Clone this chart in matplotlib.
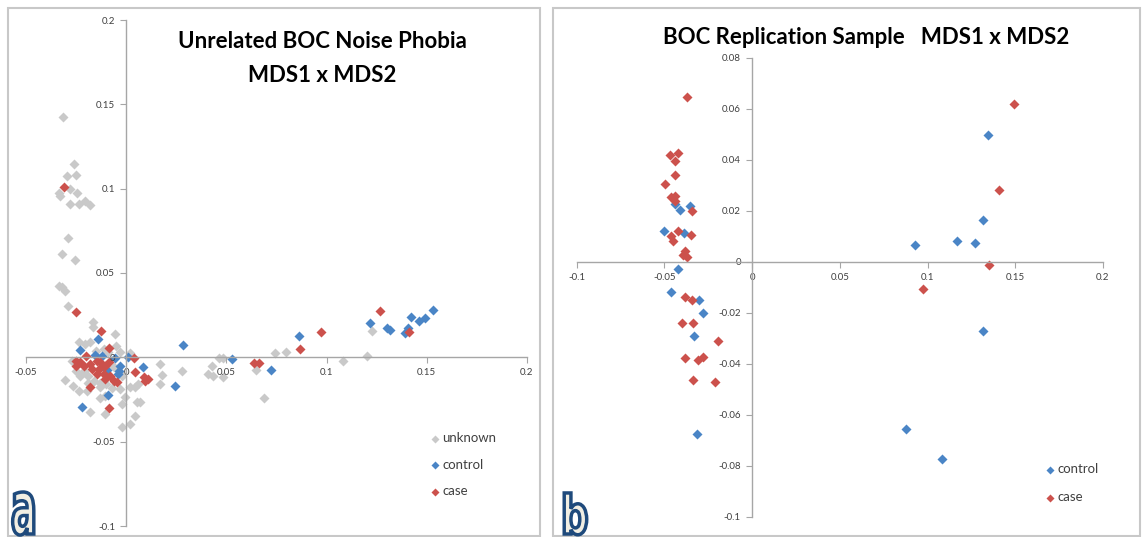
import matplotlib
matplotlib.use("Agg")
import matplotlib.pyplot as plt
from matplotlib.patches import Rectangle, PathPatch
from matplotlib.textpath import TextPath
from matplotlib.font_manager import FontProperties
from matplotlib.transforms import Affine2D

# --- panel a: unrelated BOC noise phobia, MDS1 x MDS2 ---
unk_x = [-0.0313, -0.0260, -0.0294, -0.0251, -0.0278, -0.0244, -0.0335, -0.0331, -0.0281, -0.0235,
         -0.0208, -0.0181, -0.0288, -0.0322, -0.0256, -0.0336, -0.0322, -0.0306, -0.0288,
         -0.0167, -0.0167, -0.0057, -0.0238, -0.0204, -0.0179, -0.0050, -0.0030, 0.0017,
         -0.0304, -0.0263, -0.0238, -0.0196, -0.0130, -0.0133, -0.0105, -0.0030, 0.0020, 0.0045,
         0.0061, -0.0005, 0.0053, 0.0070, -0.0022, 0.0045, -0.0022, 0.0020, -0.0179, -0.0105,
         0.0169, 0.0178, 0.0277, 0.0169,
         -0.0210, -0.0190, -0.0160, -0.0130, -0.0230, -0.0190, -0.0100, -0.0070, -0.0150, -0.0110,
         -0.0270, -0.0250, -0.0060, -0.0020, -0.0090,
         0.0427, 0.0464, 0.0485, 0.0407, 0.0435, 0.0482, 0.0647, 0.0690, 0.0743, 0.0798,
         0.1083, 0.1200, 0.1225]
unk_y = [0.1426, 0.1146, 0.1075, 0.1080, 0.0998, 0.0976, 0.0976, 0.0955, 0.0909, 0.0909,
         0.0927, 0.0903, 0.0708, 0.0613, 0.0576, 0.0422, 0.0416, 0.0396, 0.0304,
         0.0207, 0.0180, 0.0140, 0.0093, 0.0079, 0.0093, 0.0069, 0.0034, 0.0024,
         -0.0134, -0.0168, -0.0198, -0.0198, -0.0178, -0.0241, -0.0227, -0.0188, -0.0178, -0.0178,
         -0.0158, -0.0237, -0.0267, -0.0267, -0.0277, -0.0346, -0.0415, -0.0395, -0.0326, -0.0336,
         -0.0040, -0.0103, -0.0079, -0.0158,
         -0.0080, -0.0110, -0.0140, -0.0150, -0.0110, -0.0150, -0.0160, -0.0180, 0.0040, 0.0050,
         -0.0020, -0.0080, -0.0060, -0.0110, 0.0030,
         -0.0053, -0.0004, -0.0004, -0.0097, -0.0110, -0.0119, -0.0073, -0.0241, 0.0024, 0.0034,
         -0.0024, 0.0006, 0.0156]

ctrl_x = [-0.0143, -0.0229, -0.0155, -0.0121, -0.0058, 0.0008, -0.0038, -0.0030, -0.0042, -0.0096,
          -0.0091, -0.0221, 0.0086, 0.0281, 0.0244, 0.0530, 0.0721, 0.0862, 0.1216, 0.1300,
          0.1316, 0.1391, 0.1407, 0.1421, 0.1459, 0.1491, 0.1529]
ctrl_y = [0.0109, 0.0043, 0.0016, 0.0010, -0.0004, 0.0000, -0.0079, -0.0049, -0.0099, -0.0075,
          -0.0221, -0.0292, -0.0055, 0.0073, -0.0172, -0.0010, -0.0077, 0.0126, 0.0206, 0.0174,
          0.0160, 0.0144, 0.0176, 0.0239, 0.0217, 0.0235, 0.0283]

case_x = [-0.0310, -0.0249, -0.0125, -0.0088, -0.0199, 0.0037, -0.0249, -0.0229, -0.0249, -0.0213,
          -0.0179, -0.0146, -0.0130, -0.0171, -0.0138, -0.0105, -0.0088, -0.0146, -0.0113, -0.0080,
          -0.0063, -0.0047, -0.0105, -0.0179, -0.0085, 0.0045, 0.0090, 0.0111, 0.0095,
          0.0637, 0.0661, 0.0869, 0.0974, 0.1268, 0.1409]
case_y = [0.1008, 0.0267, 0.0158, 0.0055, 0.0010, -0.0004, -0.0020, -0.0030, -0.0049, -0.0049,
          -0.0040, -0.0020, -0.0030, -0.0069, -0.0069, -0.0049, -0.0030, -0.0099, -0.0099, -0.0109,
          -0.0138, -0.0148, -0.0128, -0.0178, -0.0300, -0.0089, -0.0115, -0.0128, -0.0138,
          -0.0032, -0.0032, 0.0047, 0.0152, 0.0273, 0.0150]

# --- panel b: BOC replication sample ---
rep_ctrl_x = [-0.0441, -0.0409, -0.0356, -0.0504, -0.0388, -0.0422, -0.0464, -0.0303, -0.0277, -0.0328,
              -0.0316, 0.1347, 0.1317, 0.0929, 0.1170, 0.1269, 0.1317, 0.0880, 0.1080]
rep_ctrl_y = [0.0226, 0.0202, 0.0218, 0.0119, 0.0111, -0.0030, -0.0119, -0.0150, -0.0202, -0.0291,
              -0.0674, 0.0498, 0.0163, 0.0064, 0.0083, 0.0073, -0.0270, -0.0655, -0.0772]

rep_case_x = [-0.0372, -0.0466, -0.0422, -0.0441, -0.0439, -0.0498, -0.0460, -0.0441, -0.0436, -0.0341,
              -0.0460, -0.0422, -0.0451, -0.0350, -0.0379, -0.0394, -0.0371, -0.0381, -0.0341, -0.0400,
              -0.0337, -0.0191, -0.0379, -0.0309, -0.0277, -0.0337, -0.0208,
              0.1492, 0.1410, 0.1353, 0.0975]
rep_case_y = [0.0644, 0.0417, 0.0424, 0.0395, 0.0341, 0.0304, 0.0252, 0.0258, 0.0239, 0.0200,
              0.0102, 0.0120, 0.0082, 0.0103, 0.0042, 0.0026, 0.0020, -0.0140, -0.0151, -0.0239,
              -0.0241, -0.0312, -0.0376, -0.0384, -0.0373, -0.0464, -0.0472,
              0.0616, 0.0280, -0.0012, -0.0108]

# axis ticks
a_xticks = [-0.05, 0, 0.05, 0.1, 0.15, 0.2]
a_xlabels = ["-0.05", "0", "0.05", "0.1", "0.15", "0.2"]
a_yticks = [-0.1, -0.05, 0, 0.05, 0.1, 0.15, 0.2]
a_ylabels = ["-0.1", "-0.05", "0", "0.05", "0.1", "0.15", "0.2"]
b_xticks = [-0.1, -0.05, 0, 0.05, 0.1, 0.15, 0.2]
b_xlabels = ["-0.1", "-0.05", "0", "0.05", "0.1", "0.15", "0.2"]
b_yticks = [-0.1, -0.08, -0.06, -0.04, -0.02, 0, 0.02, 0.04, 0.06, 0.08]
b_ylabels = ["-0.1", "-0.08", "-0.06", "-0.04", "-0.02", "0", "0.02", "0.04", "0.06", "0.08"]

GRAY = "#c9c9c9"
BLUE = "#4a85c6"
RED = "#cc514c"
AXIS = "#a6a6a6"
TXT = "#404040"

plt.rcParams["font.family"] = ["Lato", "DejaVu Sans"]

W, H = 1143, 537
fig = plt.figure(figsize=(W / 100, H / 100), dpi=100)


def px_axes(x0, y0, x1, y1):
    # pixel box (top-left origin) -> figure fraction
    return fig.add_axes([x0 / W, 1 - y1 / H, (x1 - x0) / W, (y1 - y0) / H])


def excel_axes(ax, xlim, ylim, xt, xl, yt, yl):
    ax.set_xlim(xlim)
    ax.set_ylim(ylim)
    for s in ["top", "right"]:
        ax.spines[s].set_visible(False)
    ax.spines["left"].set_position(("data", 0))
    ax.spines["bottom"].set_position(("data", 0))
    for s in ["left", "bottom"]:
        ax.spines[s].set_color(AXIS)
        ax.spines[s].set_linewidth(1.0)
    ax.set_xticks(xt)
    ax.set_xticklabels(xl)
    ax.set_yticks(yt)
    ax.set_yticklabels(yl)
    ax.tick_params(length=4, width=0.8, color=AXIS, labelsize=7, labelcolor=TXT, pad=4)
    ax.patch.set_alpha(0)


# panel frames
fig.add_artist(Rectangle((8 / W, 1 / H), 532 / W, 528 / H, fill=False, edgecolor="#c8c8c8", lw=1.5))
fig.add_artist(Rectangle((553 / W, 1 / H), 587 / W, 528 / H, fill=False, edgecolor="#c8c8c8", lw=1.5))

ms = 26

ax1 = px_axes(26, 20, 527, 526)
excel_axes(ax1, (-0.05, 0.2), (-0.1, 0.2), a_xticks, a_xlabels, a_yticks, a_ylabels)
ax1.scatter(unk_x, unk_y, marker="D", s=ms, color=GRAY, lw=0, label="unknown")
ax1.scatter(ctrl_x, ctrl_y, marker="D", s=ms, color=BLUE, lw=0, label="control")
ax1.scatter(case_x, case_y, marker="D", s=ms, color=RED, lw=0, label="case")
ax1.legend(loc="upper left", bbox_to_anchor=(430 / W, 1 - 432 / H), bbox_transform=fig.transFigure,
           frameon=False, fontsize=9.5, labelcolor=TXT, handlelength=0.8, handletextpad=0.15,
           labelspacing=1.1, borderpad=0, borderaxespad=0, scatterpoints=1, markerscale=0.8)

ax2 = px_axes(576.5, 57.5, 1103, 517)
excel_axes(ax2, (-0.1, 0.2), (-0.1, 0.08), b_xticks, b_xlabels, b_yticks, b_ylabels)
ax2.scatter(rep_ctrl_x, rep_ctrl_y, marker="D", s=ms, color=BLUE, lw=0, label="control")
ax2.scatter(rep_case_x, rep_case_y, marker="D", s=ms, color=RED, lw=0, label="case")
ax2.legend(loc="upper left", bbox_to_anchor=(1045 / W, 1 - 463 / H), bbox_transform=fig.transFigure,
           frameon=False, fontsize=9.5, labelcolor=TXT, handlelength=0.8, handletextpad=0.15,
           labelspacing=1.25, borderpad=0, borderaxespad=0, scatterpoints=1, markerscale=0.8)

# titles
fig.text(322 / W, 1 - 42 / H, "Unrelated BOC Noise Phobia", ha="center", va="center",
         fontsize=16, fontweight="bold", color="black")
fig.text(322 / W, 1 - 75 / H, "MDS1 x MDS2", ha="center", va="center",
         fontsize=16, fontweight="bold", color="black")
fig.text(866 / W, 1 - 37 / H, "BOC Replication Sample   MDS1 x MDS2", ha="center", va="center",
         fontsize=16, fontweight="bold", color="black")


def panel_letter(ch, x, y, size, sx):
    tp = TextPath((0, 0), ch, size=size, prop=FontProperties(family="DejaVu Sans", weight="bold"))
    tr = Affine2D().scale(sx / 100, 1 / 100).translate(x / 100, y / 100) + fig.dpi_scale_trans
    fig.add_artist(PathPatch(tp, transform=tr, facecolor="#f1eee3", edgecolor="#1f4a7c", lw=2.5))


panel_letter("a", 11, 3, 75, 0.51)
panel_letter("b", 561, 3, 54, 0.71)

fig.savefig("out.png", dpi=100)
